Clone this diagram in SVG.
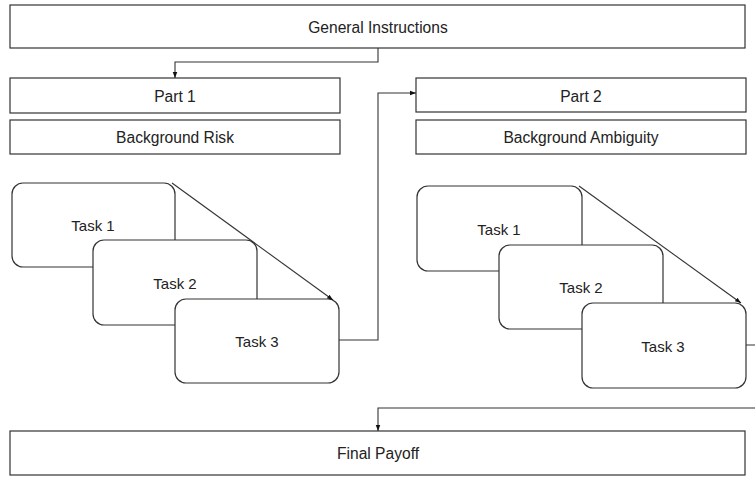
<svg xmlns="http://www.w3.org/2000/svg" width="755" height="477" viewBox="0 0 755 477">
<style>
.box{fill:#fff;stroke:#333;stroke-width:1.2}
.t{font-family:"Liberation Sans",Arial,sans-serif;font-size:15.6px;fill:#222;text-anchor:middle;dominant-baseline:central}
.tk{font-size:15px}
.c{fill:none;stroke:#333;stroke-width:1.1}
</style>
<defs>
<marker id="a" viewBox="0 0 8 8" refX="8" refY="4" markerWidth="6" markerHeight="6" orient="auto" markerUnits="userSpaceOnUse"><path d="M0,1 L8,4 L0,7 z" fill="#111"/></marker>
</defs>
<rect width="755" height="477" fill="#fff"/>
<g id="general"><rect class="box" x="10" y="5" width="735" height="43"/><text class="t" x="378" y="27">General Instructions</text></g>
<g id="part1"><rect class="box" x="10" y="78" width="330" height="35"/><text class="t" x="175" y="96">Part 1</text></g>
<g id="bgrisk"><rect class="box" x="10" y="120" width="330" height="34"/><text class="t" x="175" y="137">Background Risk</text></g>
<g id="part2"><rect class="box" x="416" y="78" width="330" height="34"/><text class="t" x="581" y="96">Part 2</text></g>
<g id="bgamb"><rect class="box" x="416" y="120" width="330" height="34"/><text class="t" x="581" y="137">Background Ambiguity</text></g>
<g id="l-task1"><rect class="box" x="12" y="183" width="163" height="84" rx="11"/><text class="t tk" x="93" y="225">Task 1</text></g>
<g id="l-task2"><rect class="box" x="93" y="240" width="164" height="85" rx="11"/><text class="t tk" x="175" y="283">Task 2</text></g>
<g id="l-task3"><rect class="box" x="175" y="299" width="164" height="84" rx="11"/><text class="t tk" x="257" y="341">Task 3</text></g>
<g id="r-task1"><rect class="box" x="417" y="186" width="165" height="85" rx="11"/><text class="t tk" x="499" y="229">Task 1</text></g>
<g id="r-task2"><rect class="box" x="499" y="245" width="164" height="84" rx="11"/><text class="t tk" x="581" y="287">Task 2</text></g>
<g id="r-task3"><rect class="box" x="582" y="303" width="164" height="85" rx="11"/><text class="t tk" x="663" y="346">Task 3</text></g>
<g id="final"><rect class="box" x="10" y="431" width="735" height="44"/><text class="t" x="378" y="453">Final Payoff</text></g>
<g id="connectors">
<path class="c" d="M378,48 V62 H175 V78" marker-end="url(#a)"/>
<path class="c" d="M339,340 H378 V93 H416" marker-end="url(#a)"/>
<path class="c" d="M172,183 L333,300" marker-end="url(#a)"/>
<path class="c" d="M579,186 L741,303" marker-end="url(#a)"/>
<path class="c" d="M746,345 H760 V408 H378 V431" marker-end="url(#a)"/>
</g>
</svg>
